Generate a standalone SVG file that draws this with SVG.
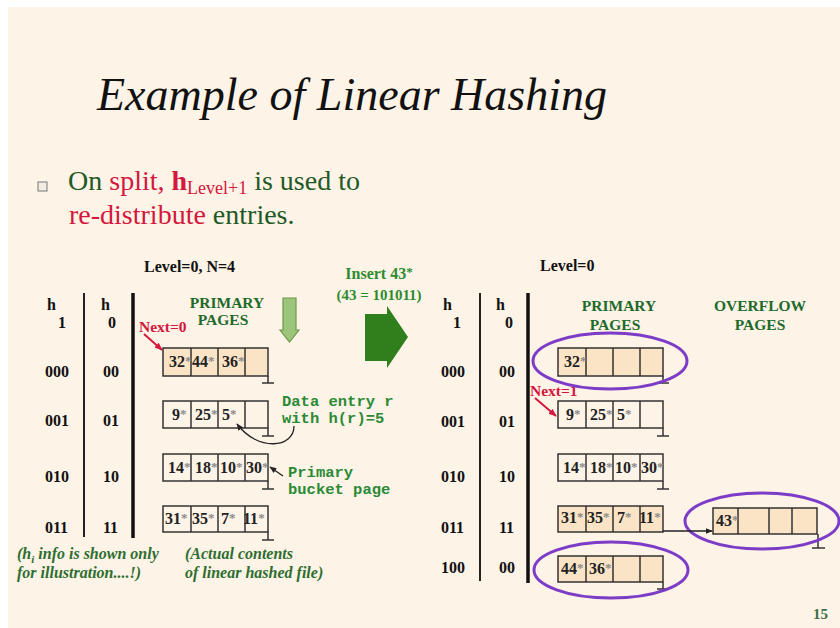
<svg xmlns="http://www.w3.org/2000/svg" width="840" height="628" viewBox="0 0 840 628">
<style>
.bg{fill:#fdf3e7}
.title{font-family:"Liberation Serif",serif;font-style:italic;font-size:46px;fill:#111}
.bl{font-family:"Liberation Serif",serif;font-size:28px}
.g{fill:#1f5a25}
.r{fill:#d3173d}
.lbl{font-family:"Liberation Serif",serif;font-weight:bold;font-size:16px;fill:#111}
.hd{font-family:"Liberation Serif",serif;font-weight:bold;font-size:15.5px;fill:#1e6a2a;text-anchor:middle}
.nx{font-family:"Liberation Serif",serif;font-weight:bold;font-size:15.5px;fill:#d3173d}
.c{font-family:"Liberation Serif",serif;font-weight:bold;font-size:16px;fill:#222}
.s{fill:#8a8a8a;font-size:13px}
.mono{font-family:"Liberation Mono",monospace;font-weight:bold;font-size:15.5px;fill:#2a8a35}
.note{font-family:"Liberation Serif",serif;font-weight:bold;font-style:italic;font-size:16px;fill:#2d6e30}
.ins{font-family:"Liberation Serif",serif;font-weight:bold;fill:#2e8b2e;text-anchor:middle}
.box{stroke:#333;stroke-width:1.5}
.pe{fill:#fbe3c5}
.nf{fill:none}
.dv{stroke:#333;stroke-width:1.5}
.gnd{stroke:#333;stroke-width:1.5;fill:none}
.thin{stroke:#222;stroke-width:2}
.thick{stroke:#111;stroke-width:3.5}
.ell{fill:none;stroke:#7d3cc8;stroke-width:3}
.ar{fill:none;stroke:#222;stroke-width:1.3}
.arr{fill:none;stroke:#d3173d;stroke-width:2}
</style>
<defs>
<marker id="mb" viewBox="0 0 10 10" refX="9" refY="5" markerWidth="7" markerHeight="7" orient="auto" markerUnits="userSpaceOnUse"><path d="M0,1 L10,5 L0,9 z" fill="#222"/></marker>
<marker id="mr" viewBox="0 0 10 10" refX="9" refY="5" markerWidth="8" markerHeight="8" orient="auto" markerUnits="userSpaceOnUse"><path d="M0,1 L10,5 L0,9 z" fill="#d3173d"/></marker>
</defs>
<rect x="0" y="0" width="840" height="628" fill="#ffffff"/>
<rect class="bg" x="8" y="7" width="832" height="621"/>

<text class="title" x="97" y="110" textLength="510">Example of Linear Hashing</text>

<g id="bullet">
<rect x="38" y="182" width="9" height="9" fill="#f4ece2" stroke="#8a8a8a" stroke-width="1.2"/>
<text class="bl" x="68" y="190"><tspan class="g">On </tspan><tspan class="r">split, </tspan><tspan class="r" font-weight="bold">h</tspan><tspan class="r" font-size="18px" dy="4">Level+1</tspan><tspan class="g" dy="-4"> is used to</tspan></text>
<text class="bl" x="69" y="224"><tspan class="r">re-distribute</tspan><tspan class="g"> entries.</tspan></text>
</g>

<!-- LEFT -->
<g id="left-header">
<text class="lbl" x="144" y="272">Level=0, N=4</text>
<text class="lbl" x="47" y="310">h</text>
<text class="lbl" x="58" y="328">1</text>
<text class="lbl" x="101" y="310">h</text>
<text class="lbl" x="108" y="328">0</text>
<line class="thin" x1="84" y1="293" x2="84" y2="537"/>
<line class="thick" x1="133" y1="293" x2="133" y2="538"/>
<text class="hd" x="227" y="308">PRIMARY</text>
<text class="hd" x="223" y="325">PAGES</text>
<text class="nx" x="139" y="332">Next=0</text>
<text class="lbl" x="45" y="377">000</text><text class="lbl" x="103" y="377">00</text>
<text class="lbl" x="45" y="426">001</text><text class="lbl" x="103" y="426">01</text>
<text class="lbl" x="45" y="482">010</text><text class="lbl" x="103" y="482">10</text>
<text class="lbl" x="45" y="533">011</text><text class="lbl" x="103" y="533">11</text>
</g>

<g id="L0">
<rect class="box pe" x="163" y="348" width="105" height="28"/>
<path class="dv" d="M191 348V376M218 348V376M245 348V376"/>
<path class="gnd" d="M268 376V383M262 383H274"/>
<text class="c" x="169" y="367">32<tspan class="s" dy="-2">*</tspan></text>
<text class="c" x="192" y="367">44<tspan class="s" dy="-2">*</tspan></text>
<text class="c" x="222" y="367">36<tspan class="s" dy="-2">*</tspan></text>
</g>
<g id="L1">
<rect class="box nf" x="163" y="401" width="105" height="27"/>
<path class="dv" d="M191 401V428M218 401V428M245 401V428"/>
<path class="gnd" d="M268 428V436M262 436H274"/>
<text class="c" x="172" y="420">9<tspan class="s" dy="-2">*</tspan></text>
<text class="c" x="195" y="420">25<tspan class="s" dy="-2">*</tspan></text>
<text class="c" x="222" y="420">5<tspan class="s" dy="-2">*</tspan></text>
</g>
<g id="L2">
<rect class="box nf" x="163" y="454" width="105" height="27"/>
<path class="dv" d="M191 454V481M218 454V481M245 454V481"/>
<path class="gnd" d="M268 481V489M262 489H274"/>
<text class="c" x="168" y="473">14<tspan class="s" dy="-2">*</tspan></text>
<text class="c" x="195" y="473">18<tspan class="s" dy="-2">*</tspan></text>
<text class="c" x="220" y="473">10<tspan class="s" dy="-2">*</tspan></text>
<text class="c" x="246" y="473">30<tspan class="s" dy="-2">*</tspan></text>
</g>
<g id="L3">
<rect class="box nf" x="163" y="506" width="105" height="26"/>
<path class="dv" d="M191 506V532M218 506V532M245 506V532"/>
<path class="gnd" d="M268 532V540M262 540H274"/>
<text class="c" x="165" y="524">31<tspan class="s" dy="-2">*</tspan></text>
<text class="c" x="192" y="524">35<tspan class="s" dy="-2">*</tspan></text>
<text class="c" x="221" y="524">7<tspan class="s" dy="-2">*</tspan></text>
<text class="c" x="243" y="524">11<tspan class="s" dy="-2">*</tspan></text>
</g>

<g id="annotations">
<text class="mono" x="282" y="406">Data entry r</text>
<text class="mono" x="282" y="423">with h(r)=5</text>
<text class="mono" x="288" y="477">Primary</text>
<text class="mono" x="288" y="494">bucket page</text>
<text class="note" x="17" y="559">(h<tspan font-size="11px" dy="4">i</tspan><tspan dy="-4"> info is shown only</tspan></text>
<text class="note" x="17" y="578">for illustration....!)</text>
<text class="note" x="185" y="559">(Actual contents</text>
<text class="note" x="185" y="578">of linear hashed file)</text>
</g>

<g id="insert">
<polygon points="283,298 296,298 296,330 299,330 289.5,342 280,330 283,330" fill="#9cc47b" stroke="#6c9a4c" stroke-width="1.2"/>
<text class="ins" x="379" y="279" font-size="16px">Insert 43<tspan font-size="13px" dy="-3">*</tspan></text>
<text class="ins" x="379" y="300" font-size="15px">(43 = 101011)</text>
<polygon points="365,314 387,314 387,306 408,337 387,368 387,361 365,361" fill="#2f7f1c"/>
</g>

<!-- RIGHT -->
<g id="right-header">
<text class="lbl" x="540" y="271">Level=0</text>
<text class="lbl" x="443" y="310">h</text>
<text class="lbl" x="453" y="328">1</text>
<text class="lbl" x="496" y="310">h</text>
<text class="lbl" x="505" y="328">0</text>
<line class="thin" x1="480" y1="293" x2="480" y2="581"/>
<line class="thick" x1="528" y1="293" x2="528" y2="583"/>
<text class="hd" x="619" y="311">PRIMARY</text>
<text class="hd" x="615" y="330">PAGES</text>
<text class="hd" x="760" y="311">OVERFLOW</text>
<text class="hd" x="760" y="330">PAGES</text>
<text class="lbl" x="441" y="377">000</text><text class="lbl" x="499" y="377">00</text>
<text class="lbl" x="441" y="427">001</text><text class="lbl" x="499" y="427">01</text>
<text class="lbl" x="441" y="482">010</text><text class="lbl" x="499" y="482">10</text>
<text class="lbl" x="441" y="533">011</text><text class="lbl" x="499" y="533">11</text>
<text class="lbl" x="441" y="573">100</text><text class="lbl" x="499" y="573">00</text>
</g>

<g id="R0">
<rect class="box pe" x="558" y="348" width="105" height="28"/>
<path class="dv" d="M586 348V376M613 348V376M640 348V376"/>
<path class="gnd" d="M663 376V383M657 383H669"/>
<text class="c" x="564" y="367">32<tspan class="s" dy="-2">*</tspan></text>
</g>
<g id="R1">
<rect class="box nf" x="558" y="401" width="105" height="27"/>
<path class="dv" d="M586 401V428M613 401V428M640 401V428"/>
<path class="gnd" d="M663 428V436M657 436H669"/>
<text class="c" x="566" y="420">9<tspan class="s" dy="-2">*</tspan></text>
<text class="c" x="590" y="420">25<tspan class="s" dy="-2">*</tspan></text>
<text class="c" x="617" y="420">5<tspan class="s" dy="-2">*</tspan></text>
</g>
<g id="R2">
<rect class="box nf" x="558" y="454" width="105" height="27"/>
<path class="dv" d="M586 454V481M613 454V481M640 454V481"/>
<path class="gnd" d="M663 481V489M657 489H669"/>
<text class="c" x="563" y="473">14<tspan class="s" dy="-2">*</tspan></text>
<text class="c" x="590" y="473">18<tspan class="s" dy="-2">*</tspan></text>
<text class="c" x="615" y="473">10<tspan class="s" dy="-2">*</tspan></text>
<text class="c" x="641" y="473">30<tspan class="s" dy="-2">*</tspan></text>
</g>
<g id="R3">
<rect class="box pe" x="558" y="506" width="105" height="26"/>
<path class="dv" d="M586 506V532M613 506V532M640 506V532"/>
<text class="c" x="561" y="523">31<tspan class="s" dy="-2">*</tspan></text>
<text class="c" x="587" y="523">35<tspan class="s" dy="-2">*</tspan></text>
<text class="c" x="617" y="523">7<tspan class="s" dy="-2">*</tspan></text>
<text class="c" x="639" y="523">11<tspan class="s" dy="-2">*</tspan></text>
</g>
<g id="R4">
<rect class="box pe" x="558" y="556" width="105" height="26"/>
<path class="dv" d="M586 556V582M613 556V582M640 556V582"/>
<path class="gnd" d="M663 582V589M657 589H669"/>
<text class="c" x="561" y="574">44<tspan class="s" dy="-2">*</tspan></text>
<text class="c" x="589" y="574">36<tspan class="s" dy="-2">*</tspan></text>
</g>
<g id="OV">
<rect class="box pe" x="713" y="508" width="104" height="26"/>
<path class="dv" d="M738 508V534M769 508V534M792 508V534"/>
<path class="gnd" d="M818 534V548M812 548H825"/>
<text class="c" x="716" y="526" fill="#3c9a2c">43<tspan class="s" dy="-2">*</tspan></text>
</g>
<text class="nx" x="530" y="396">Next=1</text>

<g id="highlights">
<ellipse class="ell" cx="610" cy="361" rx="77" ry="28"/>
<ellipse class="ell" cx="611" cy="570" rx="77" ry="28"/>
<ellipse class="ell" cx="762" cy="521" rx="77" ry="28"/>
</g>

<g id="connectors">
<line class="arr" x1="144" y1="334" x2="162" y2="350" marker-end="url(#mr)"/>
<line class="arr" x1="535" y1="398" x2="556" y2="416" marker-end="url(#mr)"/>
<path class="ar" d="M294 426 C294 448, 258 452, 237 424" marker-end="url(#mb)"/>
<line class="ar" x1="283" y1="476" x2="270" y2="467" marker-end="url(#mb)"/>
<line class="ar" x1="663" y1="531" x2="712" y2="531" marker-end="url(#mb)"/>
</g>

<text x="813" y="619" font-family="Liberation Serif,serif" font-weight="bold" font-size="15px" fill="#3c6e44">15</text>
</svg>
